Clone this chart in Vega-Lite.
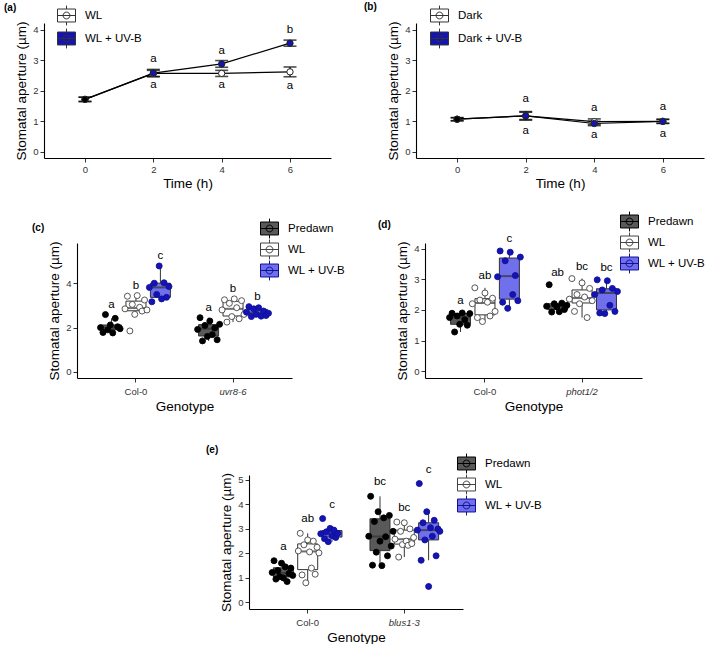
{
 "$schema": "https://vega.github.io/schema/vega-lite/v6.json",
 "padding": {"left": 3, "top": 2, "right": 0, "bottom": 0},
 "config": {
  "view": {"stroke": null},
  "font": "Liberation Sans",
  "axis": {"grid": false, "domainColor": "#000", "domainWidth": 1.1, "tickColor": "#333", "tickSize": 4, "labelColor": "#333", "labelFontSize": 9.5, "labelPadding": 2, "titleFontSize": 13.5, "titleFontWeight": "normal", "titleColor": "#000", "titlePadding": 4},
  "legend": {"title": null, "labelFontSize": 11.5, "labelColor": "#000", "labelOffset": 9, "padding": 0, "rowPadding": 0, "clipHeight": 21, "symbolSize": 324, "symbolStrokeColor": "#333", "symbolStrokeWidth": 1, "symbolOpacity": 1, "symbolType": "M-1,-0.72H1V0.72H-1Z M-1,0H1 M0,-0.72V-1.1 M0,0.72V1.1 M0.38,0A0.38,0.38 0 1,1 -0.38,0A0.38,0.38 0 1,1 0.38,0Z"},
  "title": {"fontSize": 10, "fontWeight": "bold", "anchor": "start", "frame": "group", "color": "#000", "offset": 0}
 },
 "datasets": {
  "a": [
   {"time": 0, "group": "WL", "mean": 1.72, "se": 0.07},
   {"time": 0, "group": "WL + UV-B", "mean": 1.72, "se": 0.07},
   {"time": 2, "group": "WL", "mean": 2.57, "se": 0.1, "letter": "a"},
   {"time": 2, "group": "WL + UV-B", "mean": 2.58, "se": 0.12, "letter": "a"},
   {"time": 4, "group": "WL", "mean": 2.57, "se": 0.1, "letter": "a"},
   {"time": 4, "group": "WL + UV-B", "mean": 2.88, "se": 0.11, "letter": "a"},
   {"time": 6, "group": "WL", "mean": 2.62, "se": 0.16, "letter": "a"},
   {"time": 6, "group": "WL + UV-B", "mean": 3.56, "se": 0.1, "letter": "b"}
  ],
  "b": [
   {"time": 0, "group": "Dark", "mean": 1.07, "se": 0.05},
   {"time": 0, "group": "Dark + UV-B", "mean": 1.07, "se": 0.05},
   {"time": 2, "group": "Dark", "mean": 1.18, "se": 0.14, "letter": "a"},
   {"time": 2, "group": "Dark + UV-B", "mean": 1.18, "se": 0.12, "letter": "a"},
   {"time": 4, "group": "Dark", "mean": 0.99, "se": 0.09, "letter": "a"},
   {"time": 4, "group": "Dark + UV-B", "mean": 0.93, "se": 0.07, "letter": "a"},
   {"time": 6, "group": "Dark", "mean": 1.0, "se": 0.07, "letter": "a"},
   {"time": 6, "group": "Dark + UV-B", "mean": 1.0, "se": 0.06, "letter": "a"}
  ],
  "c": [
   {"genotype": "Col-0", "treatment": "Predawn", "rep": 1, "value": 2.0},
   {"genotype": "Col-0", "treatment": "Predawn", "rep": 2, "value": 1.78},
   {"genotype": "Col-0", "treatment": "Predawn", "rep": 3, "value": 2.59},
   {"genotype": "Col-0", "treatment": "Predawn", "rep": 4, "value": 1.9},
   {"genotype": "Col-0", "treatment": "Predawn", "rep": 5, "value": 2.12},
   {"genotype": "Col-0", "treatment": "Predawn", "rep": 6, "value": 1.76},
   {"genotype": "Col-0", "treatment": "Predawn", "rep": 7, "value": 2.42},
   {"genotype": "Col-0", "treatment": "Predawn", "rep": 8, "value": 2.04},
   {"genotype": "Col-0", "treatment": "Predawn", "rep": 9, "value": 1.95},
   {"genotype": "Col-0", "treatment": "WL", "rep": 1, "value": 2.85},
   {"genotype": "Col-0", "treatment": "WL", "rep": 2, "value": 3.42},
   {"genotype": "Col-0", "treatment": "WL", "rep": 3, "value": 1.85},
   {"genotype": "Col-0", "treatment": "WL", "rep": 4, "value": 3.05},
   {"genotype": "Col-0", "treatment": "WL", "rep": 5, "value": 2.6},
   {"genotype": "Col-0", "treatment": "WL", "rep": 6, "value": 3.45},
   {"genotype": "Col-0", "treatment": "WL", "rep": 7, "value": 2.92},
   {"genotype": "Col-0", "treatment": "WL", "rep": 8, "value": 2.75},
   {"genotype": "Col-0", "treatment": "WL", "rep": 9, "value": 3.25},
   {"genotype": "Col-0", "treatment": "WL", "rep": 10, "value": 2.8},
   {"genotype": "Col-0", "treatment": "WL + UV-B", "rep": 1, "value": 3.82},
   {"genotype": "Col-0", "treatment": "WL + UV-B", "rep": 2, "value": 3.17},
   {"genotype": "Col-0", "treatment": "WL + UV-B", "rep": 3, "value": 4.01},
   {"genotype": "Col-0", "treatment": "WL + UV-B", "rep": 4, "value": 3.5},
   {"genotype": "Col-0", "treatment": "WL + UV-B", "rep": 5, "value": 4.79},
   {"genotype": "Col-0", "treatment": "WL + UV-B", "rep": 6, "value": 3.3},
   {"genotype": "Col-0", "treatment": "WL + UV-B", "rep": 7, "value": 4.03},
   {"genotype": "Col-0", "treatment": "WL + UV-B", "rep": 8, "value": 3.37},
   {"genotype": "Col-0", "treatment": "WL + UV-B", "rep": 9, "value": 3.86},
   {"genotype": "uvr8-6", "treatment": "Predawn", "rep": 1, "value": 1.92},
   {"genotype": "uvr8-6", "treatment": "Predawn", "rep": 2, "value": 2.45},
   {"genotype": "uvr8-6", "treatment": "Predawn", "rep": 3, "value": 1.4},
   {"genotype": "uvr8-6", "treatment": "Predawn", "rep": 4, "value": 2.1},
   {"genotype": "uvr8-6", "treatment": "Predawn", "rep": 5, "value": 1.6},
   {"genotype": "uvr8-6", "treatment": "Predawn", "rep": 6, "value": 2.3},
   {"genotype": "uvr8-6", "treatment": "Predawn", "rep": 7, "value": 1.68},
   {"genotype": "uvr8-6", "treatment": "Predawn", "rep": 8, "value": 1.98},
   {"genotype": "uvr8-6", "treatment": "Predawn", "rep": 9, "value": 1.45},
   {"genotype": "uvr8-6", "treatment": "Predawn", "rep": 10, "value": 2.15},
   {"genotype": "uvr8-6", "treatment": "WL", "rep": 1, "value": 2.8},
   {"genotype": "uvr8-6", "treatment": "WL", "rep": 2, "value": 3.26},
   {"genotype": "uvr8-6", "treatment": "WL", "rep": 3, "value": 2.25},
   {"genotype": "uvr8-6", "treatment": "WL", "rep": 4, "value": 3.1},
   {"genotype": "uvr8-6", "treatment": "WL", "rep": 5, "value": 2.5},
   {"genotype": "uvr8-6", "treatment": "WL", "rep": 6, "value": 3.3},
   {"genotype": "uvr8-6", "treatment": "WL", "rep": 7, "value": 2.9},
   {"genotype": "uvr8-6", "treatment": "WL", "rep": 8, "value": 2.4},
   {"genotype": "uvr8-6", "treatment": "WL", "rep": 9, "value": 3.22},
   {"genotype": "uvr8-6", "treatment": "WL", "rep": 10, "value": 2.6},
   {"genotype": "uvr8-6", "treatment": "WL + UV-B", "rep": 1, "value": 2.7},
   {"genotype": "uvr8-6", "treatment": "WL + UV-B", "rep": 2, "value": 2.95},
   {"genotype": "uvr8-6", "treatment": "WL + UV-B", "rep": 3, "value": 2.5},
   {"genotype": "uvr8-6", "treatment": "WL + UV-B", "rep": 4, "value": 2.85},
   {"genotype": "uvr8-6", "treatment": "WL + UV-B", "rep": 5, "value": 2.6},
   {"genotype": "uvr8-6", "treatment": "WL + UV-B", "rep": 6, "value": 2.9},
   {"genotype": "uvr8-6", "treatment": "WL + UV-B", "rep": 7, "value": 2.52},
   {"genotype": "uvr8-6", "treatment": "WL + UV-B", "rep": 8, "value": 2.75},
   {"genotype": "uvr8-6", "treatment": "WL + UV-B", "rep": 9, "value": 2.55},
   {"genotype": "uvr8-6", "treatment": "WL + UV-B", "rep": 10, "value": 2.65},
   {"genotype": "Col-0", "treatment": "Predawn", "letter": "a"},
   {"genotype": "Col-0", "treatment": "WL", "letter": "b"},
   {"genotype": "Col-0", "treatment": "WL + UV-B", "letter": "c"},
   {"genotype": "uvr8-6", "treatment": "Predawn", "letter": "a"},
   {"genotype": "uvr8-6", "treatment": "WL", "letter": "b"},
   {"genotype": "uvr8-6", "treatment": "WL + UV-B", "letter": "b"}
  ],
  "d": [
   {"genotype": "Col-0", "treatment": "Predawn", "rep": 1, "value": 1.75},
   {"genotype": "Col-0", "treatment": "Predawn", "rep": 2, "value": 1.89},
   {"genotype": "Col-0", "treatment": "Predawn", "rep": 3, "value": 1.28},
   {"genotype": "Col-0", "treatment": "Predawn", "rep": 4, "value": 1.8},
   {"genotype": "Col-0", "treatment": "Predawn", "rep": 5, "value": 1.53},
   {"genotype": "Col-0", "treatment": "Predawn", "rep": 6, "value": 1.9},
   {"genotype": "Col-0", "treatment": "Predawn", "rep": 7, "value": 1.68},
   {"genotype": "Col-0", "treatment": "Predawn", "rep": 8, "value": 1.5},
   {"genotype": "Col-0", "treatment": "Predawn", "rep": 9, "value": 1.88},
   {"genotype": "Col-0", "treatment": "WL", "rep": 1, "value": 2.2},
   {"genotype": "Col-0", "treatment": "WL", "rep": 2, "value": 2.72},
   {"genotype": "Col-0", "treatment": "WL", "rep": 3, "value": 1.75},
   {"genotype": "Col-0", "treatment": "WL", "rep": 4, "value": 2.32},
   {"genotype": "Col-0", "treatment": "WL", "rep": 5, "value": 1.62},
   {"genotype": "Col-0", "treatment": "WL", "rep": 6, "value": 2.55},
   {"genotype": "Col-0", "treatment": "WL", "rep": 7, "value": 2.25},
   {"genotype": "Col-0", "treatment": "WL", "rep": 8, "value": 1.8},
   {"genotype": "Col-0", "treatment": "WL", "rep": 9, "value": 2.38},
   {"genotype": "Col-0", "treatment": "WL", "rep": 10, "value": 1.95},
   {"genotype": "Col-0", "treatment": "WL + UV-B", "rep": 1, "value": 3.08},
   {"genotype": "Col-0", "treatment": "WL + UV-B", "rep": 2, "value": 3.92},
   {"genotype": "Col-0", "treatment": "WL + UV-B", "rep": 3, "value": 2.25},
   {"genotype": "Col-0", "treatment": "WL + UV-B", "rep": 4, "value": 3.6},
   {"genotype": "Col-0", "treatment": "WL + UV-B", "rep": 5, "value": 2.05},
   {"genotype": "Col-0", "treatment": "WL + UV-B", "rep": 6, "value": 3.88},
   {"genotype": "Col-0", "treatment": "WL + UV-B", "rep": 7, "value": 2.5},
   {"genotype": "Col-0", "treatment": "WL + UV-B", "rep": 8, "value": 3.12},
   {"genotype": "Col-0", "treatment": "WL + UV-B", "rep": 9, "value": 2.3},
   {"genotype": "Col-0", "treatment": "WL + UV-B", "rep": 10, "value": 3.72},
   {"genotype": "phot1/2", "treatment": "Predawn", "rep": 1, "value": 2.12},
   {"genotype": "phot1/2", "treatment": "Predawn", "rep": 2, "value": 2.82},
   {"genotype": "phot1/2", "treatment": "Predawn", "rep": 3, "value": 1.93},
   {"genotype": "phot1/2", "treatment": "Predawn", "rep": 4, "value": 2.2},
   {"genotype": "phot1/2", "treatment": "Predawn", "rep": 5, "value": 2.1},
   {"genotype": "phot1/2", "treatment": "Predawn", "rep": 6, "value": 1.94},
   {"genotype": "phot1/2", "treatment": "Predawn", "rep": 7, "value": 2.22},
   {"genotype": "phot1/2", "treatment": "Predawn", "rep": 8, "value": 2.01},
   {"genotype": "phot1/2", "treatment": "Predawn", "rep": 9, "value": 2.15},
   {"genotype": "phot1/2", "treatment": "WL", "rep": 1, "value": 2.35},
   {"genotype": "phot1/2", "treatment": "WL", "rep": 2, "value": 3.02},
   {"genotype": "phot1/2", "treatment": "WL", "rep": 3, "value": 1.95},
   {"genotype": "phot1/2", "treatment": "WL", "rep": 4, "value": 2.5},
   {"genotype": "phot1/2", "treatment": "WL", "rep": 5, "value": 2.2},
   {"genotype": "phot1/2", "treatment": "WL", "rep": 6, "value": 2.88},
   {"genotype": "phot1/2", "treatment": "WL", "rep": 7, "value": 2.42},
   {"genotype": "phot1/2", "treatment": "WL", "rep": 8, "value": 1.75},
   {"genotype": "phot1/2", "treatment": "WL", "rep": 9, "value": 2.7},
   {"genotype": "phot1/2", "treatment": "WL", "rep": 10, "value": 2.3},
   {"genotype": "phot1/2", "treatment": "WL + UV-B", "rep": 1, "value": 2.5},
   {"genotype": "phot1/2", "treatment": "WL + UV-B", "rep": 2, "value": 2.98},
   {"genotype": "phot1/2", "treatment": "WL + UV-B", "rep": 3, "value": 1.9},
   {"genotype": "phot1/2", "treatment": "WL + UV-B", "rep": 4, "value": 2.65},
   {"genotype": "phot1/2", "treatment": "WL + UV-B", "rep": 5, "value": 1.88},
   {"genotype": "phot1/2", "treatment": "WL + UV-B", "rep": 6, "value": 2.95},
   {"genotype": "phot1/2", "treatment": "WL + UV-B", "rep": 7, "value": 2.15},
   {"genotype": "phot1/2", "treatment": "WL + UV-B", "rep": 8, "value": 2.7},
   {"genotype": "phot1/2", "treatment": "WL + UV-B", "rep": 9, "value": 1.95},
   {"genotype": "phot1/2", "treatment": "WL + UV-B", "rep": 10, "value": 2.6},
   {"genotype": "Col-0", "treatment": "Predawn", "letter": "a"},
   {"genotype": "Col-0", "treatment": "WL", "letter": "ab"},
   {"genotype": "Col-0", "treatment": "WL + UV-B", "letter": "c"},
   {"genotype": "phot1/2", "treatment": "Predawn", "letter": "ab"},
   {"genotype": "phot1/2", "treatment": "WL", "letter": "bc"},
   {"genotype": "phot1/2", "treatment": "WL + UV-B", "letter": "bc"}
  ],
  "e": [
   {"genotype": "Col-0", "treatment": "Predawn", "rep": 1, "value": 1.22},
   {"genotype": "Col-0", "treatment": "Predawn", "rep": 2, "value": 1.7},
   {"genotype": "Col-0", "treatment": "Predawn", "rep": 3, "value": 0.95},
   {"genotype": "Col-0", "treatment": "Predawn", "rep": 4, "value": 1.3},
   {"genotype": "Col-0", "treatment": "Predawn", "rep": 5, "value": 1.05},
   {"genotype": "Col-0", "treatment": "Predawn", "rep": 6, "value": 1.6},
   {"genotype": "Col-0", "treatment": "Predawn", "rep": 7, "value": 1.0},
   {"genotype": "Col-0", "treatment": "Predawn", "rep": 8, "value": 1.45},
   {"genotype": "Col-0", "treatment": "Predawn", "rep": 9, "value": 0.85},
   {"genotype": "Col-0", "treatment": "Predawn", "rep": 10, "value": 1.18},
   {"genotype": "Col-0", "treatment": "Predawn", "rep": 11, "value": 1.4},
   {"genotype": "Col-0", "treatment": "Predawn", "rep": 12, "value": 1.1},
   {"genotype": "Col-0", "treatment": "WL", "rep": 1, "value": 2.1},
   {"genotype": "Col-0", "treatment": "WL", "rep": 2, "value": 2.82},
   {"genotype": "Col-0", "treatment": "WL", "rep": 3, "value": 1.12},
   {"genotype": "Col-0", "treatment": "WL", "rep": 4, "value": 2.35},
   {"genotype": "Col-0", "treatment": "WL", "rep": 5, "value": 0.8},
   {"genotype": "Col-0", "treatment": "WL", "rep": 6, "value": 2.55},
   {"genotype": "Col-0", "treatment": "WL", "rep": 7, "value": 2.06},
   {"genotype": "Col-0", "treatment": "WL", "rep": 8, "value": 1.4},
   {"genotype": "Col-0", "treatment": "WL", "rep": 9, "value": 2.5},
   {"genotype": "Col-0", "treatment": "WL", "rep": 10, "value": 1.15},
   {"genotype": "Col-0", "treatment": "WL", "rep": 11, "value": 2.25},
   {"genotype": "Col-0", "treatment": "WL", "rep": 12, "value": 2.02},
   {"genotype": "Col-0", "treatment": "WL + UV-B", "rep": 1, "value": 2.8},
   {"genotype": "Col-0", "treatment": "WL + UV-B", "rep": 2, "value": 3.42},
   {"genotype": "Col-0", "treatment": "WL + UV-B", "rep": 3, "value": 2.6},
   {"genotype": "Col-0", "treatment": "WL + UV-B", "rep": 4, "value": 2.88},
   {"genotype": "Col-0", "treatment": "WL + UV-B", "rep": 5, "value": 2.48},
   {"genotype": "Col-0", "treatment": "WL + UV-B", "rep": 6, "value": 3.02},
   {"genotype": "Col-0", "treatment": "WL + UV-B", "rep": 7, "value": 2.72},
   {"genotype": "Col-0", "treatment": "WL + UV-B", "rep": 8, "value": 2.95},
   {"genotype": "Col-0", "treatment": "WL + UV-B", "rep": 9, "value": 2.65},
   {"genotype": "Col-0", "treatment": "WL + UV-B", "rep": 10, "value": 2.82},
   {"genotype": "blus1-3", "treatment": "Predawn", "rep": 1, "value": 2.7},
   {"genotype": "blus1-3", "treatment": "Predawn", "rep": 2, "value": 4.33},
   {"genotype": "blus1-3", "treatment": "Predawn", "rep": 3, "value": 1.52},
   {"genotype": "blus1-3", "treatment": "Predawn", "rep": 4, "value": 3.3},
   {"genotype": "blus1-3", "treatment": "Predawn", "rep": 5, "value": 2.05},
   {"genotype": "blus1-3", "treatment": "Predawn", "rep": 6, "value": 3.7},
   {"genotype": "blus1-3", "treatment": "Predawn", "rep": 7, "value": 2.5},
   {"genotype": "blus1-3", "treatment": "Predawn", "rep": 8, "value": 1.5},
   {"genotype": "blus1-3", "treatment": "Predawn", "rep": 9, "value": 3.45},
   {"genotype": "blus1-3", "treatment": "Predawn", "rep": 10, "value": 2.68},
   {"genotype": "blus1-3", "treatment": "Predawn", "rep": 11, "value": 1.9},
   {"genotype": "blus1-3", "treatment": "Predawn", "rep": 12, "value": 3.55},
   {"genotype": "blus1-3", "treatment": "Predawn", "rep": 13, "value": 2.3},
   {"genotype": "blus1-3", "treatment": "Predawn", "rep": 14, "value": 2.9},
   {"genotype": "blus1-3", "treatment": "WL", "rep": 1, "value": 2.58},
   {"genotype": "blus1-3", "treatment": "WL", "rep": 2, "value": 3.28},
   {"genotype": "blus1-3", "treatment": "WL", "rep": 3, "value": 1.85},
   {"genotype": "blus1-3", "treatment": "WL", "rep": 4, "value": 2.9},
   {"genotype": "blus1-3", "treatment": "WL", "rep": 5, "value": 2.36},
   {"genotype": "blus1-3", "treatment": "WL", "rep": 6, "value": 3.25},
   {"genotype": "blus1-3", "treatment": "WL", "rep": 7, "value": 2.5},
   {"genotype": "blus1-3", "treatment": "WL", "rep": 8, "value": 2.33},
   {"genotype": "blus1-3", "treatment": "WL", "rep": 9, "value": 3.0},
   {"genotype": "blus1-3", "treatment": "WL", "rep": 10, "value": 2.4},
   {"genotype": "blus1-3", "treatment": "WL", "rep": 11, "value": 2.65},
   {"genotype": "blus1-3", "treatment": "WL + UV-B", "rep": 1, "value": 2.95},
   {"genotype": "blus1-3", "treatment": "WL + UV-B", "rep": 2, "value": 4.85},
   {"genotype": "blus1-3", "treatment": "WL + UV-B", "rep": 3, "value": 1.72},
   {"genotype": "blus1-3", "treatment": "WL + UV-B", "rep": 4, "value": 3.25},
   {"genotype": "blus1-3", "treatment": "WL + UV-B", "rep": 5, "value": 2.55},
   {"genotype": "blus1-3", "treatment": "WL + UV-B", "rep": 6, "value": 3.7},
   {"genotype": "blus1-3", "treatment": "WL + UV-B", "rep": 7, "value": 0.65},
   {"genotype": "blus1-3", "treatment": "WL + UV-B", "rep": 8, "value": 3.05},
   {"genotype": "blus1-3", "treatment": "WL + UV-B", "rep": 9, "value": 2.7},
   {"genotype": "blus1-3", "treatment": "WL + UV-B", "rep": 10, "value": 3.35},
   {"genotype": "blus1-3", "treatment": "WL + UV-B", "rep": 11, "value": 1.9},
   {"genotype": "blus1-3", "treatment": "WL + UV-B", "rep": 12, "value": 3.0},
   {"genotype": "blus1-3", "treatment": "WL + UV-B", "rep": 13, "value": 2.9},
   {"genotype": "Col-0", "treatment": "Predawn", "letter": "a"},
   {"genotype": "Col-0", "treatment": "WL", "letter": "ab"},
   {"genotype": "Col-0", "treatment": "WL + UV-B", "letter": "c"},
   {"genotype": "blus1-3", "treatment": "Predawn", "letter": "bc"},
   {"genotype": "blus1-3", "treatment": "WL", "letter": "bc"},
   {"genotype": "blus1-3", "treatment": "WL + UV-B", "letter": "c"}
  ]
 },
 "spacing": 21,
 "resolve": {"scale": {"x": "independent", "y": "independent", "color": "independent", "fill": "independent", "stroke": "independent", "xOffset": "independent"}, "legend": {"color": "independent", "fill": "independent"}},
 "vconcat": [
  {
   "spacing": 0,
   "resolve": {"scale": {"x": "independent", "y": "independent", "color": "independent", "fill": "independent", "stroke": "independent"}, "legend": {"color": "independent", "fill": "independent"}},
   "hconcat": [
    {"width": 1, "height": 10, "data": {"values": [{}]}, "mark": {"type": "point", "opacity": 0, "size": 0}, "encoding": {}},
    {
     "spacing": 33,
     "resolve": {"scale": {"x": "independent", "y": "independent", "color": "independent", "fill": "independent", "stroke": "independent"}, "legend": {"color": "independent", "fill": "independent"}},
     "hconcat": [
      {
       "width": 287, "height": 135,
       "title": {"text": "(a)", "dx": -40, "dy": 12},
       "data": {"name": "a"},
       "encoding": {
        "x": {"field": "time", "type": "quantitative", "title": "Time (h)", "scale": {"domain": [-1.2, 7.2], "nice": false, "zero": false}, "axis": {"values": [0, 2, 4, 6], "titlePadding": 3}}
       },
       "layer": [
        {"mark": {"type": "line", "color": "#000", "strokeWidth": 1.2},
         "encoding": {"y": {"field": "mean", "type": "quantitative", "title": "Stomatal aperture (µm)", "scale": {"domain": [-0.2, 4.22], "nice": false}, "axis": {"values": [0, 1, 2, 3, 4]}}, "detail": {"field": "group"}}},
        {"mark": {"type": "errorbar", "color": "#000", "thickness": 1.2, "ticks": {"size": 13, "thickness": 1.6, "color": "#000"}},
         "encoding": {"y": {"field": "mean", "type": "quantitative", "title": "Stomatal aperture (µm)", "axis": {"values": [0, 1, 2, 3, 4]}}, "yError": {"field": "se"}, "detail": {"field": "group"}}},
        {"mark": {"type": "point", "filled": true, "size": 40, "stroke": "#222", "strokeWidth": 1, "opacity": 1},
         "encoding": {"y": {"field": "mean", "type": "quantitative", "title": "Stomatal aperture (µm)", "axis": {"values": [0, 1, 2, 3, 4]}},
          "fill": {"field": "group", "type": "nominal", "scale": {"domain": ["WL", "WL + UV-B"], "range": ["#ffffff", "#1414B4"]}, "condition": {"test": "datum.time === 0", "value": "#000"},
           "legend": {"orient": "none", "legendX": 13, "legendY": -18, "rowPadding": 2}}}},
        {"transform": [{"filter": "isValid(datum.letter) && indexof(datum.group, 'UV-B') >= 0"}, {"calculate": "datum.mean + datum.se", "as": "hi"}],
         "mark": {"type": "text", "dy": -10, "fontSize": 11.5, "color": "#000"},
         "encoding": {"y": {"field": "hi", "type": "quantitative", "title": "Stomatal aperture (µm)", "axis": {"values": [0, 1, 2, 3, 4]}}, "text": {"field": "letter"}}},
        {"transform": [{"filter": "isValid(datum.letter) && indexof(datum.group, 'UV-B') < 0"}, {"calculate": "datum.mean - datum.se", "as": "lo"}],
         "mark": {"type": "text", "dy": 9, "fontSize": 11.5, "color": "#000"},
         "encoding": {"y": {"field": "lo", "type": "quantitative", "title": "Stomatal aperture (µm)", "axis": {"values": [0, 1, 2, 3, 4]}}, "text": {"field": "letter"}}}
       ]
      },
      {
       "width": 288, "height": 135,
       "title": {"text": "(b)", "dx": -52, "dy": 11},
       "data": {"name": "b"},
       "encoding": {
        "x": {"field": "time", "type": "quantitative", "title": "Time (h)", "scale": {"domain": [-1.2, 7.2], "nice": false, "zero": false}, "axis": {"values": [0, 2, 4, 6], "titlePadding": 3}}
       },
       "layer": [
        {"mark": {"type": "line", "color": "#000", "strokeWidth": 1.2},
         "encoding": {"y": {"field": "mean", "type": "quantitative", "title": "Stomatal aperture (µm)", "scale": {"domain": [-0.2, 4.22], "nice": false}, "axis": {"values": [0, 1, 2, 3, 4]}}, "detail": {"field": "group"}}},
        {"mark": {"type": "errorbar", "color": "#000", "thickness": 1.2, "ticks": {"size": 13, "thickness": 1.6, "color": "#000"}},
         "encoding": {"y": {"field": "mean", "type": "quantitative", "title": "Stomatal aperture (µm)", "axis": {"values": [0, 1, 2, 3, 4]}}, "yError": {"field": "se"}, "detail": {"field": "group"}}},
        {"mark": {"type": "point", "filled": true, "size": 40, "stroke": "#222", "strokeWidth": 1, "opacity": 1},
         "encoding": {"y": {"field": "mean", "type": "quantitative", "title": "Stomatal aperture (µm)", "axis": {"values": [0, 1, 2, 3, 4]}},
          "fill": {"field": "group", "type": "nominal", "scale": {"domain": ["Dark", "Dark + UV-B"], "range": ["#ffffff", "#1414B4"]}, "condition": {"test": "datum.time === 0", "value": "#000"},
           "legend": {"orient": "none", "legendX": 14, "legendY": -18, "rowPadding": 2}}}},
        {"transform": [{"filter": "isValid(datum.letter) && indexof(datum.group, 'UV-B') >= 0"}, {"calculate": "datum.mean + datum.se", "as": "hi"}],
         "mark": {"type": "text", "dy": -13, "fontSize": 11.5, "color": "#000"},
         "encoding": {"y": {"field": "hi", "type": "quantitative", "title": "Stomatal aperture (µm)", "axis": {"values": [0, 1, 2, 3, 4]}}, "text": {"field": "letter"}}},
        {"transform": [{"filter": "isValid(datum.letter) && indexof(datum.group, 'UV-B') < 0"}, {"calculate": "datum.mean - datum.se", "as": "lo"}],
         "mark": {"type": "text", "dy": 11, "fontSize": 11.5, "color": "#000"},
         "encoding": {"y": {"field": "lo", "type": "quantitative", "title": "Stomatal aperture (µm)", "axis": {"values": [0, 1, 2, 3, 4]}}, "text": {"field": "letter"}}}
       ]
      }
     ]
    }
   ]
  },
  {
   "spacing": 0,
   "resolve": {"scale": {"x": "independent", "y": "independent", "color": "independent", "fill": "independent", "stroke": "independent", "xOffset": "independent"}, "legend": {"color": "independent", "fill": "independent"}},
   "hconcat": [
    {"width": 29, "height": 181, "data": {"values": [{}]}, "mark": {"type": "point", "opacity": 0, "size": 0}, "encoding": {}},
    {
     "spacing": 32,
     "resolve": {"scale": {"x": "independent", "y": "independent", "color": "independent", "fill": "independent", "stroke": "independent", "xOffset": "independent"}, "legend": {"color": "independent", "fill": "independent"}},
     "hconcat": [
      {
       "width": 215, "height": 135,
       "title": {"text": "(c)", "dx": -45, "dy": 19},
       "data": {"name": "c"},
       "encoding": {
        "x": {"field": "genotype", "type": "nominal", "title": "Genotype", "scale": {"domain": ["Col-0", "uvr8-6"], "paddingInner": 0.245, "paddingOuter": 0.23},
         "axis": {"labelAngle": 0, "labelPadding": 4, "titlePadding": 4, "labelFontStyle": {"condition": {"test": "datum.value !== 'Col-0'", "value": "italic"}, "value": "normal"}}}
       },
       "layer": [
        {"transform": [{"filter": "isValid(datum.value)"}],
         "mark": {"type": "boxplot", "extent": 1.5, "size": 20, "outliers": false, "ticks": false, "box": {"stroke": "#333", "strokeWidth": 1}, "median": {"color": "#333", "thickness": 2}, "rule": {"color": "#333", "strokeWidth": 1}},
         "encoding": {
          "xOffset": {"field": "treatment", "type": "nominal", "scale": {"domain": ["Predawn", "WL", "WL + UV-B"]}},
          "y": {"field": "value", "type": "quantitative", "title": "Stomatal aperture (µm)", "scale": {"domain": [-0.28, 5.83], "nice": false}, "axis": {"values": [0, 2, 4]}},
          "color": {"field": "treatment", "type": "nominal", "scale": {"domain": ["Predawn", "WL", "WL + UV-B"], "range": ["#595959", "#ffffff", "#7070EC"]},
           "legend": {"orient": "none", "legendX": 183, "legendY": -25, "symbolSize": 324, "rowPadding": 0, "clipHeight": 21, "encode": {"symbols": {"update": {"fill": {"signal": "datum.value === 'Predawn' ? '#595959' : datum.value === 'WL' ? '#ffffff' : '#1414B4'"}, "stroke": {"value": "#333"}}}}}}
         }},
        {"transform": [{"filter": "isValid(datum.value)"}, {"calculate": "indexof(['Predawn','WL','WL + UV-B'], datum.treatment) + '_' + (datum.rep < 10 ? '0' : '') + datum.rep", "as": "slot"}],
         "mark": {"type": "point", "filled": true, "size": 36, "opacity": 1, "strokeWidth": 0.9},
         "encoding": {
          "xOffset": {"field": "slot", "type": "nominal", "sort": "ascending"},
          "y": {"field": "value", "type": "quantitative", "title": "Stomatal aperture (µm)", "axis": {"values": [0, 2, 4]}},
          "fill": {"field": "treatment", "type": "nominal", "scale": {"domain": ["Predawn", "WL", "WL + UV-B"], "range": ["#000000", "#ffffff", "#1414B4"]}, "legend": null},
          "stroke": {"field": "treatment", "type": "nominal", "scale": {"domain": ["Predawn", "WL", "WL + UV-B"], "range": ["#000000", "#444444", "#10109A"]}, "legend": null}
         }},
        {"transform": [{"joinaggregate": [{"op": "max", "field": "value", "as": "ymax"}], "groupby": ["genotype", "treatment"]}, {"filter": "isValid(datum.letter)"}],
         "mark": {"type": "text", "dy": -10, "fontSize": 11.5, "color": "#000"},
         "encoding": {
          "xOffset": {"field": "treatment", "type": "nominal", "scale": {"domain": ["Predawn", "WL", "WL + UV-B"]}},
          "y": {"field": "ymax", "type": "quantitative", "title": "Stomatal aperture (µm)", "axis": {"values": [0, 2, 4]}},
          "text": {"field": "letter"}
         }}
       ],
       "resolve": {"scale": {"xOffset": "independent"}}
      },
      {
       "width": 217, "height": 135,
       "title": {"text": "(d)", "dx": -47, "dy": 23},
       "data": {"name": "d"},
       "encoding": {
        "x": {"field": "genotype", "type": "nominal", "title": "Genotype", "scale": {"domain": ["Col-0", "phot1/2"], "paddingInner": 0.245, "paddingOuter": 0.24},
         "axis": {"labelAngle": 0, "labelPadding": 4, "titlePadding": 4, "labelFontStyle": {"condition": {"test": "datum.value !== 'Col-0'", "value": "italic"}, "value": "normal"}}}
       },
       "layer": [
        {"transform": [{"filter": "isValid(datum.value)"}],
         "mark": {"type": "boxplot", "extent": 1.5, "size": 20, "outliers": false, "ticks": false, "box": {"stroke": "#333", "strokeWidth": 1}, "median": {"color": "#333", "thickness": 2}, "rule": {"color": "#333", "strokeWidth": 1}},
         "encoding": {
          "xOffset": {"field": "treatment", "type": "nominal", "scale": {"domain": ["Predawn", "WL", "WL + UV-B"]}},
          "y": {"field": "value", "type": "quantitative", "title": "Stomatal aperture (µm)", "scale": {"domain": [-0.22, 4.18], "nice": false}, "axis": {"values": [0, 1, 2, 3, 4]}},
          "color": {"field": "treatment", "type": "nominal", "scale": {"domain": ["Predawn", "WL", "WL + UV-B"], "range": ["#595959", "#ffffff", "#7070EC"]},
           "legend": {"orient": "none", "legendX": 195, "legendY": -32, "symbolSize": 324, "rowPadding": 0, "clipHeight": 21, "encode": {"symbols": {"update": {"fill": {"signal": "datum.value === 'Predawn' ? '#595959' : datum.value === 'WL' ? '#ffffff' : '#1414B4'"}, "stroke": {"value": "#333"}}}}}}
         }},
        {"transform": [{"filter": "isValid(datum.value)"}, {"calculate": "indexof(['Predawn','WL','WL + UV-B'], datum.treatment) + '_' + (datum.rep < 10 ? '0' : '') + datum.rep", "as": "slot"}],
         "mark": {"type": "point", "filled": true, "size": 36, "opacity": 1, "strokeWidth": 0.9},
         "encoding": {
          "xOffset": {"field": "slot", "type": "nominal", "sort": "ascending"},
          "y": {"field": "value", "type": "quantitative", "title": "Stomatal aperture (µm)", "axis": {"values": [0, 1, 2, 3, 4]}},
          "fill": {"field": "treatment", "type": "nominal", "scale": {"domain": ["Predawn", "WL", "WL + UV-B"], "range": ["#000000", "#ffffff", "#1414B4"]}, "legend": null},
          "stroke": {"field": "treatment", "type": "nominal", "scale": {"domain": ["Predawn", "WL", "WL + UV-B"], "range": ["#000000", "#444444", "#10109A"]}, "legend": null}
         }},
        {"transform": [{"joinaggregate": [{"op": "max", "field": "value", "as": "ymax"}], "groupby": ["genotype", "treatment"]}, {"filter": "isValid(datum.letter)"}],
         "mark": {"type": "text", "dy": -12, "fontSize": 11.5, "color": "#000"},
         "encoding": {
          "xOffset": {"field": "treatment", "type": "nominal", "scale": {"domain": ["Predawn", "WL", "WL + UV-B"]}},
          "y": {"field": "ymax", "type": "quantitative", "title": "Stomatal aperture (µm)", "axis": {"values": [0, 1, 2, 3, 4]}},
          "text": {"field": "letter"}
         }}
       ],
       "resolve": {"scale": {"xOffset": "independent"}}
      }
     ]
    }
   ]
  },
  {
   "spacing": 0,
   "resolve": {"scale": {"x": "independent", "y": "independent", "color": "independent", "fill": "independent", "stroke": "independent", "xOffset": "independent"}, "legend": {"color": "independent", "fill": "independent"}},
   "hconcat": [
    {"width": 203, "height": 10, "data": {"values": [{}]}, "mark": {"type": "point", "opacity": 0, "size": 0}, "encoding": {}},
    {
     "width": 214, "height": 134,
     "title": {"text": "(e)", "dx": -43, "dy": 6},
     "data": {"name": "e"},
     "encoding": {
      "x": {"field": "genotype", "type": "nominal", "title": "Genotype", "scale": {"domain": ["Col-0", "blus1-3"], "paddingInner": 0.245, "paddingOuter": 0.23},
       "axis": {"labelAngle": 0, "labelPadding": 4, "titlePadding": 4, "labelFontStyle": {"condition": {"test": "datum.value !== 'Col-0'", "value": "italic"}, "value": "normal"}}}
     },
     "layer": [
      {"transform": [{"filter": "isValid(datum.value)"}],
       "mark": {"type": "boxplot", "extent": 1.5, "size": 20, "outliers": false, "ticks": false, "box": {"stroke": "#333", "strokeWidth": 1}, "median": {"color": "#333", "thickness": 2}, "rule": {"color": "#333", "strokeWidth": 1}},
       "encoding": {
        "xOffset": {"field": "treatment", "type": "nominal", "scale": {"domain": ["Predawn", "WL", "WL + UV-B"]}},
        "y": {"field": "value", "type": "quantitative", "title": "Stomatal aperture (µm)", "scale": {"domain": [-0.27, 5.2], "nice": false}, "axis": {"values": [0, 1, 2, 3, 4, 5]}},
        "color": {"field": "treatment", "type": "nominal", "scale": {"domain": ["Predawn", "WL", "WL + UV-B"], "range": ["#595959", "#ffffff", "#7070EC"]},
         "legend": {"orient": "none", "legendX": 208, "legendY": -22, "symbolSize": 324, "rowPadding": 0, "clipHeight": 21, "encode": {"symbols": {"update": {"fill": {"signal": "datum.value === 'Predawn' ? '#595959' : datum.value === 'WL' ? '#ffffff' : '#1414B4'"}, "stroke": {"value": "#333"}}}}}}
       }},
      {"transform": [{"filter": "isValid(datum.value)"}, {"calculate": "indexof(['Predawn','WL','WL + UV-B'], datum.treatment) + '_' + (datum.rep < 10 ? '0' : '') + datum.rep", "as": "slot"}],
       "mark": {"type": "point", "filled": true, "size": 36, "opacity": 1, "strokeWidth": 0.9},
       "encoding": {
        "xOffset": {"field": "slot", "type": "nominal", "sort": "ascending"},
        "y": {"field": "value", "type": "quantitative", "title": "Stomatal aperture (µm)", "axis": {"values": [0, 1, 2, 3, 4, 5]}},
        "fill": {"field": "treatment", "type": "nominal", "scale": {"domain": ["Predawn", "WL", "WL + UV-B"], "range": ["#000000", "#ffffff", "#1414B4"]}, "legend": null},
        "stroke": {"field": "treatment", "type": "nominal", "scale": {"domain": ["Predawn", "WL", "WL + UV-B"], "range": ["#000000", "#444444", "#10109A"]}, "legend": null}
       }},
      {"transform": [{"joinaggregate": [{"op": "max", "field": "value", "as": "ymax"}], "groupby": ["genotype", "treatment"]}, {"filter": "isValid(datum.letter)"}],
       "mark": {"type": "text", "dy": -14, "fontSize": 11.5, "color": "#000"},
       "encoding": {
        "xOffset": {"field": "treatment", "type": "nominal", "scale": {"domain": ["Predawn", "WL", "WL + UV-B"]}},
        "y": {"field": "ymax", "type": "quantitative", "title": "Stomatal aperture (µm)", "axis": {"values": [0, 1, 2, 3, 4, 5]}},
        "text": {"field": "letter"}
       }}
     ],
     "resolve": {"scale": {"xOffset": "independent"}}
    }
   ]
  }
 ]
}
